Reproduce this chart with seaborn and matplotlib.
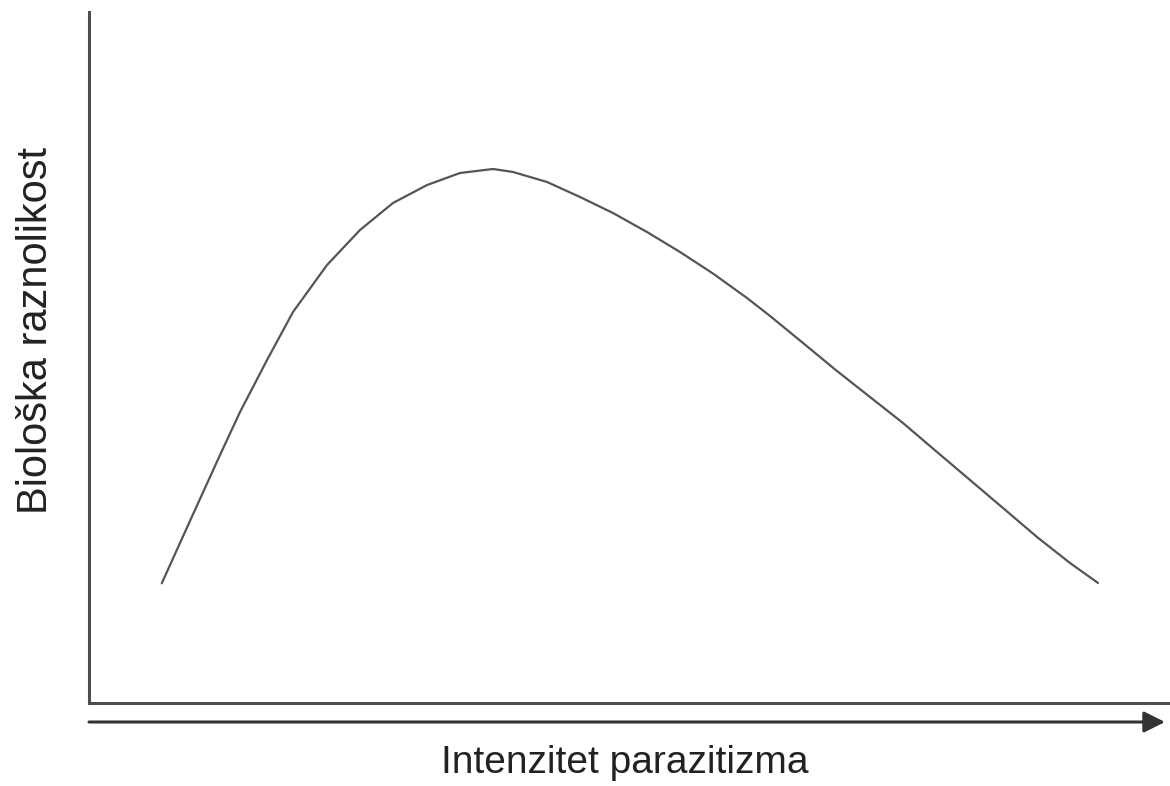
import matplotlib
matplotlib.use("Agg")
import matplotlib.pyplot as plt
import seaborn as sns

# curve (axis units 0-100 on both axes)
intensity = [6.73, 9.34, 12.12, 13.97, 16.47, 18.87, 22.02, 25.07, 28.12, 31.27,
             34.32, 37.37, 39.22, 42.37, 45.42, 48.47, 51.62, 54.67, 57.72, 60.87,
             63.00, 66.05, 69.19, 72.25, 75.30, 78.45, 81.50, 84.55, 87.70, 90.75,
             93.34]
diversity = [17.32, 26.34, 35.89, 42.11, 49.64, 56.58, 63.39, 68.45, 72.36, 74.96,
             76.70, 77.28, 76.85, 75.40, 73.23, 70.91, 68.16, 65.27, 62.16, 58.61,
             56.01, 52.10, 48.05, 44.28, 40.52, 36.32, 32.27, 28.22, 24.02, 20.26,
             17.37]

x_label = "Intenzitet parazitizma"
y_label = "Biološka raznolikost"

sns.set_style("white")
plt.rcParams["font.family"] = ["Liberation Sans", "DejaVu Sans"]

W, H = 1170, 786
fig = plt.figure(figsize=(W / 100, H / 100), dpi=100)
ax = fig.add_axes([89 / W, 1 - 703 / H, (W - 89) / W, (703 - 12) / H])

sns.lineplot(x=intensity, y=diversity, ax=ax, color="#555555", linewidth=1.6,
             sort=False, solid_joinstyle="round", solid_capstyle="round")

ax.set_xlim(0, 100)
ax.set_ylim(0, 100)
ax.set_xticks([])
ax.set_yticks([])
for side in ["top", "right"]:
    ax.spines[side].set_visible(False)
for side in ["left", "bottom"]:
    ax.spines[side].set_color("#4d4d4d")
    ax.spines[side].set_linewidth(2.2)

# arrow under the x axis
arrow_y = (703 - 722) / (703 - 12)
ax.annotate("", xy=((1165 - 89) / (W - 89), arrow_y), xytext=(0, arrow_y),
            xycoords="axes fraction", annotation_clip=False,
            arrowprops=dict(arrowstyle="-|>", lw=2.2, color="#333333",
                            mutation_scale=32, shrinkA=0, shrinkB=0))

fig.text(625 / W, 1 - 773 / H, x_label, ha="center", va="baseline",
         fontsize=28, color="#222222")
fig.text(47 / W, 1 - 330 / H, y_label, rotation=90, rotation_mode="anchor",
         ha="center", va="baseline", fontsize=30, color="#222222")

fig.savefig("out.png", dpi=100)
